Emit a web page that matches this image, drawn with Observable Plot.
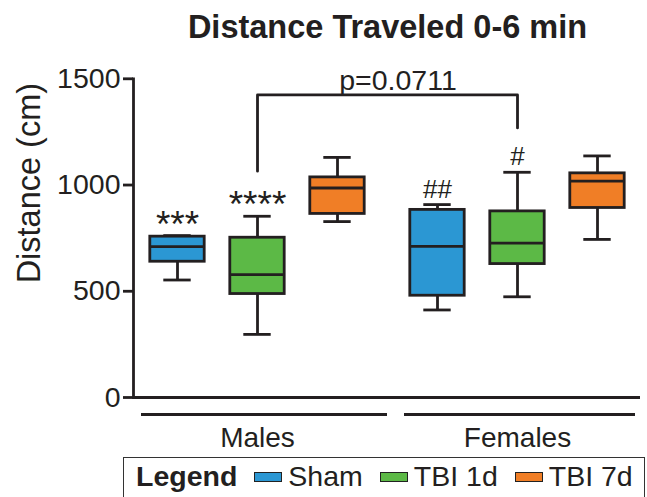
<!DOCTYPE html>
<html>
<head>
<meta charset="utf-8">
<script src="https://cdn.jsdelivr.net/npm/d3@7"></script>
<script src="https://cdn.jsdelivr.net/npm/@observablehq/plot@0.6"></script>
<style>
  html, body { margin: 0; padding: 0; background: #fff; }
  #page { position: relative; width: 647px; height: 497px; overflow: hidden; font-family: 'Liberation Sans', Arial, sans-serif; color: #231f20; }
  #title { position: absolute; left: 133px; width: 509px; top: 11px; text-align: center; font-weight: bold; font-size: 32.5px; line-height: 32px; }
  #chart { position: absolute; left: 0; top: 50px; }
  #legend { position: absolute; left: 123px; top: 457px; width: 522px; height: 60px; border: 1.5px solid #333; padding: 4px 0 0 12px; box-sizing: border-box; font-size: 28.5px; line-height: 28px; white-space: nowrap; }
  #legend b { font-weight: bold; }
  .sw { display: inline-block; width: 26px; height: 8px; border: 1.8px solid #222; vertical-align: 4px; margin-left: 17px; margin-right: 6px; }
</style>
</head>
<body>
<div id="page">
  <div id="title">Distance Traveled 0-6 min</div>
  <div id="chart"></div>
  <div id="legend"></div>
</div>
<script>
// ---- data ----
const sexes = ["Males", "Females"];
const treatments = ["Sham", "TBI 1d", "TBI 7d"];
const colors = ["#2b97d3", "#5cb946", "#f07e26"];
const groupSex = ["Males", "Males", "Males", "Females", "Females", "Females"];
const groupTreatment = ["Sham", "TBI 1d", "TBI 7d", "Sham", "TBI 1d", "TBI 7d"];
const whiskerLow = [553, 297, 828, 412, 474, 744];
const quartile1 = [639, 487, 864, 479, 628, 892];
const medians = [710, 578, 986, 711, 727, 1018];
const quartile3 = [757, 752, 1036, 883, 876, 1055];
const whiskerHigh = [762, 853, 1130, 908, 1060, 1137];
const markers = ["***", "****", "", "##", "#", ""];
const yTicks = [0, 500, 1000, 1500];
const bracketSex = ["Males", "Males", "Females", "Females"];
const bracketY = [1065, 1424, 1424, 1269];
const pLabel = "p=0.0711";
const yLabel = "Distance (cm)";

// ---- build table ----
const boxes = groupSex.map((s, i) => ({
  sex: s, treatment: groupTreatment[i], low: whiskerLow[i], q1: quartile1[i],
  median: medians[i], q3: quartile3[i], high: whiskerHigh[i], marker: markers[i]
}));
const bracket = bracketSex.map((s, i) => ({sex: s, y: bracketY[i]}));

// ---- layout (styles/positions) ----
const ink = "#231f20";
const sw = 2.8;
const offsets = [-80, 0, 80];      // treatment offset inside a sex group
const bandW = 234.6;               // band width of the sex scale
const boxInset = (bandW - 55) / 2;
const capInset = (bandW - 28) / 2;
const underlineInsets = [[1, -13], [4, -1]];

const marks = [];
treatments.forEach((t, k) => {
  const d = boxes.filter(b => b.treatment === t);
  const dx = offsets[k];
  marks.push(
    Plot.ruleX(d, {x: "sex", y1: "low", y2: "high", dx, stroke: ink, strokeWidth: sw}),
    Plot.barY(d, {x: "sex", y1: "q1", y2: "q3", dx, fill: colors[k], stroke: ink, strokeWidth: sw, insetLeft: boxInset, insetRight: boxInset}),
    Plot.tickY(d, {x: "sex", y: "median", dx, stroke: ink, strokeWidth: sw, insetLeft: boxInset, insetRight: boxInset}),
    Plot.tickY(d, {x: "sex", y: "low", dx, stroke: ink, strokeWidth: sw, insetLeft: capInset, insetRight: capInset}),
    Plot.tickY(d, {x: "sex", y: "high", dx, stroke: ink, strokeWidth: sw, insetLeft: capInset, insetRight: capInset}),
    Plot.text(d.filter(b => b.marker.startsWith("*")), {x: "sex", y: "high", text: "marker", dx, dy: 1, lineAnchor: "bottom", fontSize: 37, fill: ink}),
    Plot.text(d.filter(b => b.marker.startsWith("#")), {x: "sex", y: "high", text: "marker", dx, dy: -7, lineAnchor: "bottom", fontSize: 26, fill: ink})
  );
});
const underlines = sexes.map((s, i) =>
  Plot.tickY([s], {x: d => d, y: () => 0, dy: 17, stroke: ink, strokeWidth: sw, insetLeft: underlineInsets[i][0], insetRight: underlineInsets[i][1]})
);

const chart = Plot.plot({
  width: 647,
  height: 405,
  marginTop: 28.3,
  marginBottom: 58,
  marginLeft: 133,
  marginRight: 7,
  style: {fontFamily: "'Liberation Sans', Arial, sans-serif", fontSize: "28px", color: ink, background: "transparent", overflow: "visible"},
  x: {domain: sexes, paddingInner: 0.1, paddingOuter: 0.0224, label: null},
  y: {domain: [0, 1500], label: null},
  marks: [
    Plot.axisY({ticks: yTicks, tickSize: 10, tickPadding: 3, tickFormat: d => String(d), label: null, strokeWidth: sw, fontSize: 28.5}),
    Plot.axisX({tickSize: 0, tickPadding: 30, label: null, fontSize: 28}),
    Plot.frame({anchor: "left", stroke: ink, strokeWidth: sw}),
    Plot.ruleY([0], {stroke: ink, strokeWidth: sw}),
    ...underlines,
    Plot.text([yLabel], {frameAnchor: "left", rotate: -90, textAnchor: "middle", lineAnchor: "middle", dx: -104, dy: -55, fontSize: 32.5, fill: ink}),
    Plot.line(bracket, {x: "sex", y: "y", stroke: ink, strokeWidth: sw}),
    Plot.text([pLabel], {frameAnchor: "top", y: () => bracketY[1], dx: 11, dy: -5, lineAnchor: "bottom", fontSize: 28.5, fill: ink}),
    ...marks
  ]
});
document.getElementById("chart").appendChild(chart);

// ---- legend ----
const legend = document.getElementById("legend");
const lb = document.createElement("b");
lb.textContent = "Legend";
legend.appendChild(lb);
treatments.forEach((t, k) => {
  const s = document.createElement("span");
  s.className = "sw";
  s.style.background = colors[k];
  legend.appendChild(s);
  legend.appendChild(document.createTextNode(t));
});
</script>
</body>
</html>
